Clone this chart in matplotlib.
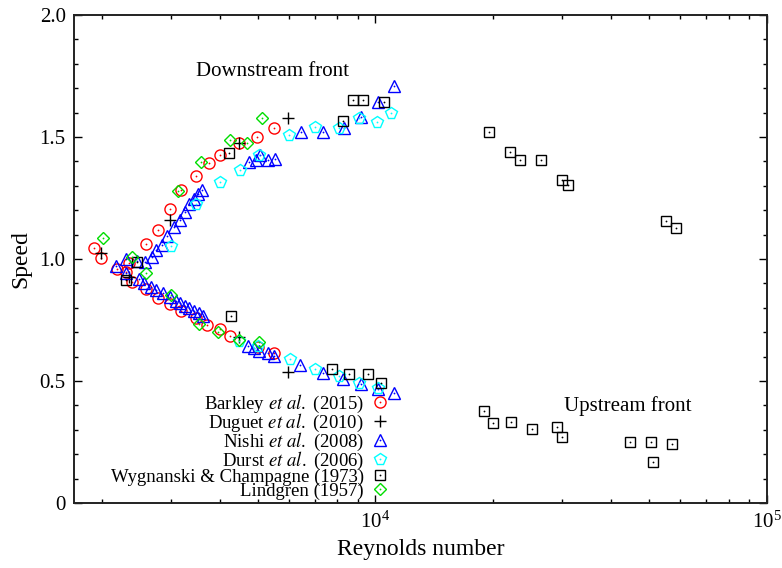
import matplotlib
matplotlib.use('Agg')
import matplotlib.pyplot as plt
from matplotlib.legend_handler import HandlerTuple
from matplotlib.ticker import MultipleLocator, NullFormatter, LogLocator

plt.rcParams['font.family'] = ['Liberation Serif', 'DejaVu Serif']
plt.rcParams['mathtext.fontset'] = 'stix'

# Barkley et al. (2015)
barkley_re = [1911, 1995, 2350, 2591, 2790, 2994, 3194, 3488, 3750, 4000, 4479, 4980, 5503,
              2193, 2303, 2394, 2600, 2784, 2981, 3194, 3488, 3724, 4000, 4242, 5008, 5503]
barkley_speed = [1.044, 1.005, 0.985, 1.060, 1.119, 1.205, 1.283, 1.340, 1.392, 1.426, 1.474, 1.500, 1.538,
                 0.958, 0.948, 0.907, 0.876, 0.839, 0.816, 0.788, 0.757, 0.730, 0.712, 0.686, 0.641, 0.614]

# Duguet et al. (2010)
duguet_re = [1995, 2994, 4479, 5974, 2350, 4479, 5974]
duguet_speed = [1.026, 1.160, 1.474, 1.579, 0.925, 0.682, 0.538]

# Nishi et al. (2008)
nishi_re = [2180, 2303, 2461, 2574, 2683, 2748, 2857, 2936, 3053, 3162, 3260, 3342, 3434, 3529, 3613,
            4752, 4945, 5080, 5311, 5526, 6461, 7337, 8335, 9192, 10139, 11136,
            2303, 2490, 2571, 2666, 2759, 2868, 2994, 3100, 3175, 3260, 3342, 3439, 3536, 3624,
            4723, 4912, 5055, 5311, 5495, 6435, 7337, 8288, 9192, 10139, 11136]
nishi_speed = [0.970, 0.999, 0.993, 0.989, 1.009, 1.037, 1.057, 1.094, 1.130, 1.160, 1.194, 1.225, 1.246, 1.266, 1.283,
               1.396, 1.406, 1.426, 1.406, 1.409, 1.519, 1.519, 1.536, 1.583, 1.645, 1.709,
               0.941, 0.917, 0.900, 0.887, 0.873, 0.859, 0.846, 0.829, 0.818, 0.807, 0.798, 0.788, 0.777, 0.766,
               0.643, 0.634, 0.623, 0.614, 0.604, 0.566, 0.534, 0.507, 0.488, 0.466, 0.452]

# Durst et al. (2006)
durst_re = [3000, 3488, 4000, 4516, 5040, 6010, 7030, 8060, 9102, 10100, 10970,
            4479, 5008, 6035, 7030, 8060, 9067, 10139]
durst_speed = [1.053, 1.224, 1.317, 1.365, 1.426, 1.508, 1.542, 1.536, 1.577, 1.563, 1.600,
               0.664, 0.643, 0.590, 0.548, 0.520, 0.493, 0.470]

# Wygnanski & Champagne (1973)
wyg_re = [2461, 4224, 8253, 8752, 9281, 10543, 19535, 22100, 23440, 26460, 29870, 30950, 55140, 58480,
          2303, 4283, 7753, 8584, 9559, 10340, 18970, 19920, 22190, 25050, 29010, 29940, 44640, 50480, 50990, 57000]
wyg_speed = [0.989, 1.433, 1.567, 1.652, 1.652, 1.645, 1.519, 1.437, 1.406, 1.406, 1.324, 1.303, 1.156, 1.126,
             0.912, 0.766, 0.548, 0.527, 0.527, 0.491, 0.377, 0.327, 0.333, 0.303, 0.313, 0.272, 0.251, 0.251, 0.169, 0.240]

# Lindgren (1957)
lind_re = [2015, 2394, 3131, 3577, 4242, 4696, 5129, 2600, 3013, 3536, 3960, 4497, 5030]
lind_speed = [1.087, 1.009, 1.280, 1.396, 1.488, 1.477, 1.577, 0.941, 0.852, 0.734, 0.700, 0.668, 0.661]

fig = plt.figure(figsize=(7.82, 5.68), dpi=100)
ax = fig.add_axes([0.0946, 0.1144, 0.8864, 0.8592])
ax.set_xscale('log')

series = [
    (barkley_re, barkley_speed, 'o', 'red', 8.0, True, r'Barkley $\it{et\ al.}$ (2015)'),
    (duguet_re, duguet_speed, '+', 'black', 9.0, False, r'Duguet $\it{et\ al.}$ (2010)'),
    (nishi_re, nishi_speed, '^', 'blue', 8.0, True, r'Nishi $\it{et\ al.}$ (2008)'),
    (durst_re, durst_speed, 'p', 'cyan', 8.5, True, r'Durst $\it{et\ al.}$ (2006)'),
    (wyg_re, wyg_speed, 's', 'black', 7.5, True, 'Wygnanski & Champagne (1973)'),
    (lind_re, lind_speed, 'D', '#00dd00', 6.0, True, 'Lindgren (1957)'),
]

handles = []
labels = []
for re_vals, sp_vals, mk, col, ms, dot, lab in series:
    h1, = ax.plot(re_vals, sp_vals, linestyle='none', marker=mk, markersize=ms,
                  markerfacecolor='none', markeredgecolor=col, markeredgewidth=1.0)
    if dot:
        # the little dot in the middle of each open symbol
        h2, = ax.plot(re_vals, sp_vals, linestyle='none', marker='o', markersize=1.3,
                      color=col, markeredgewidth=0)
        handles.append((h1, h2))
    else:
        handles.append(h1)
    labels.append(lab)

ax.set_xlim(1700, 1e5)
ax.set_ylim(0, 2.0)

ax.set_yticks([0, 0.5, 1.0, 1.5, 2.0])
ax.set_yticklabels(['0', '0.5', '1.0', '1.5', '2.0'])
ax.yaxis.set_minor_locator(MultipleLocator(0.1))
ax.xaxis.set_major_locator(LogLocator(base=10))
ax.xaxis.set_minor_locator(LogLocator(base=10, subs=range(2, 10)))
ax.xaxis.set_minor_formatter(NullFormatter())

ax.tick_params(which='both', direction='in', top=True, right=True, labelsize=15, width=1.0)
ax.tick_params(which='major', length=6, pad=6)
ax.tick_params(which='minor', length=3)
for s in ax.spines.values():
    s.set_linewidth(1.4)
    s.set_color('#222222')

ax.set_xlabel('Reynolds number', fontsize=17, labelpad=5)
ax.set_ylabel('Speed', fontsize=17, labelpad=6)

ax.text(5461, 1.77, 'Downstream front', fontsize=15, ha='center', va='center')
ax.text(43950, 0.398, 'Upstream front', fontsize=15, ha='center', va='center')

leg = ax.legend(handles, labels, handler_map={tuple: HandlerTuple(ndivide=1, pad=0)},
                loc='lower right', bbox_to_anchor=(0.455, 0.006), frameon=False,
                markerfirst=False, fontsize=13.5, handlelength=1.0, handletextpad=0.35,
                labelspacing=-0.17, borderpad=0, borderaxespad=0)

plt.savefig('out.png', dpi=100)
